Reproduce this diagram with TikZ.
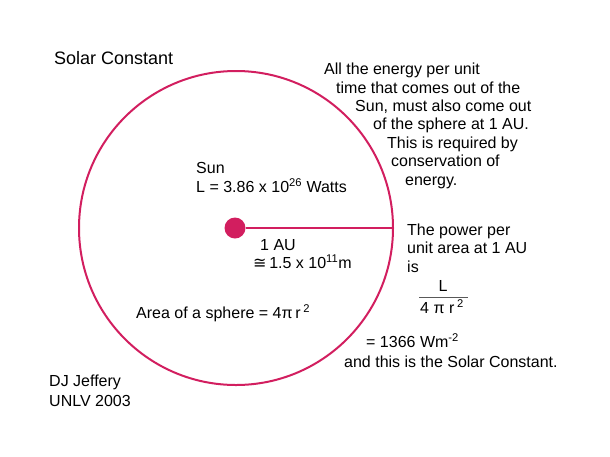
\documentclass[tikz,border=0pt]{standalone}
\usepackage{fontspec}
\setmainfont{Liberation Sans}
\newfontfamily\symfont{DejaVu Sans}
\usetikzlibrary{positioning}

\definecolor{sunred}{RGB}{210,30,95}

\begin{document}
\begin{tikzpicture}[x=1pt, y=-1pt,
    txt/.style={anchor=base west, inner sep=0pt, font=\fontsize{16}{18}\selectfont},
    ctxt/.style={txt, anchor=base},
    ring/.style={circle, draw=sunred, line width=2pt, minimum size=314pt, inner sep=0pt},
    dot/.style={circle, fill=sunred, minimum size=21pt, inner sep=0pt},
    ray/.style={draw=sunred, line width=2pt}
]
\useasboundingbox (0,0) rectangle (610,456);

\node[ring] (sphere) at (236,228) {};
\node[dot] (sun) at (235,228) {};
\draw[ray] (sun.east) -- (sphere.east);

\node[txt, font=\fontsize{18}{20}\selectfont] (title) at (54,64) {Solar Constant};

% energy argument, one line at a time
\node[txt] (e1) at (324,74.5) {All the energy per unit};
\node[txt] (e2) at (336,93) {time that comes out of the};
\node[txt] (e3) at (355,111) {Sun, must also come out};
\node[txt] (e4) at (373,129.5) {of the sphere at 1 AU.};
\node[txt] (e5) at (387,148) {This is required by};
\node[txt] (e6) at (391,166.5) {conservation of};
\node[txt] (e7) at (405,185.5) {energy.};

\node[txt] (sunname) at (196,173.5) {Sun};
\node[txt] (lum) at (196,192.5) {L = 3.86 x 10\textsuperscript{26} Watts};

\node[txt] (au) at (260,250.5) {1 AU};
\node[txt] (dist) at (253,268.5) {{\symfont ≅}\,1.5 x 10\textsuperscript{11}m};

\node[txt] (area) at (136,318.5) {Area of a sphere = 4π\,r\,\textsuperscript{2}};

% power per unit area
\node[txt] (p1) at (407,235.5) {The power per};
\node[txt] (p2) at (407,253.5) {unit area at 1 AU};
\node[txt] (p3) at (407,272.5) {is};
\node[ctxt] (num) at (443,291.5) {L};
\node[ctxt] (den) at (442,313.5) {4 π r\,\textsuperscript{2}};
\draw[gray!70!black, line width=0.6pt] (419,297) -- (468,297);
\node[txt] (val) at (366,347.5) {= 1366 Wm\textsuperscript{-2}};
\node[txt] (concl) at (344,367.5) {and this is the Solar Constant.};

\node[txt] (auth1) at (49,386.5) {DJ Jeffery};
\node[txt] (auth2) at (49,406.5) {UNLV 2003};
\end{tikzpicture}
\end{document}
